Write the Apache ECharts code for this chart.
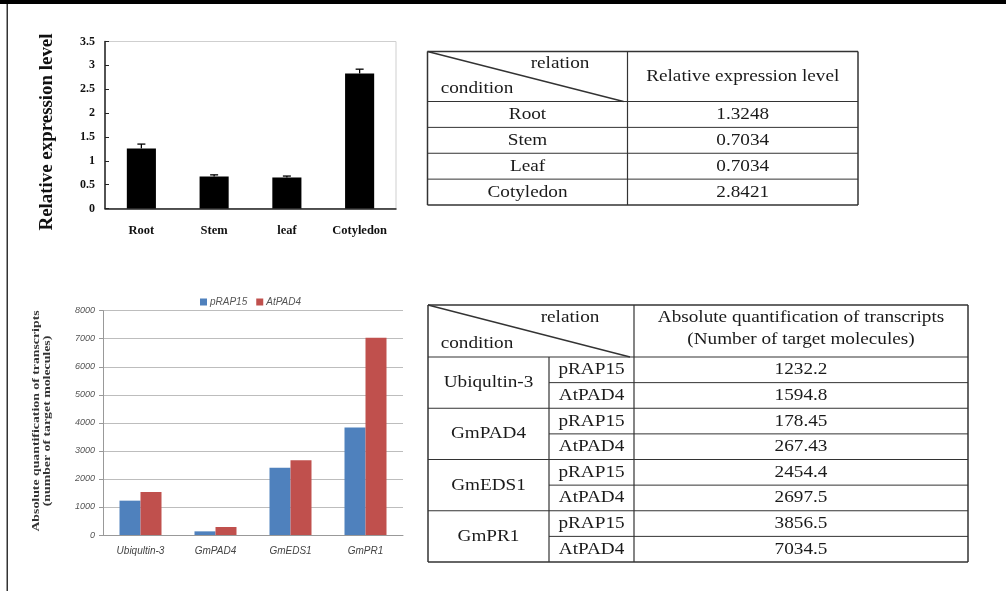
<!DOCTYPE html>
<html>
<head>
<meta charset="utf-8">
<script src="https://cdn.jsdelivr.net/npm/echarts@6/dist/echarts.min.js"></script>
<style>
html,body{margin:0;padding:0;background:#fff;}
#c{width:1006px;height:591px;}
</style>
</head>
<body>
<div id="c"></div>
<script>
// ---- data: top chart ----
const tissueCats = ['Root', 'Stem', 'leaf', 'Cotyledon'];
const tissueValues = [1.26, 0.67, 0.65, 2.83];
const tissueErrors = [0.09, 0.035, 0.03, 0.09];
const tissueTicks = ['0', '0.5', '1', '1.5', '2', '2.5', '3', '3.5'];

// ---- data: bottom chart ----
const geneCats = ['Ubiqultin-3', 'GmPAD4', 'GmEDS1', 'GmPR1'];
const pRAP15Values = [1225, 130, 2400, 3830];
const AtPAD4Values = [1530, 285, 2665, 7035];
const seriesNames = ['pRAP15', 'AtPAD4'];
const geneTicks = ['0', '1000', '2000', '3000', '4000', '5000', '6000', '7000', '8000'];

// ---- data: tables ----
const table1Rows = ['Root', 'Stem', 'Leaf', 'Cotyledon'];
const table1Values = ['1.3248', '0.7034', '0.7034', '2.8421'];
const table1Header = 'Relative expression level';
const table2Genes = ['Ubiqultin-3', 'GmPAD4', 'GmEDS1', 'GmPR1'];
const table2Lines = ['pRAP15', 'AtPAD4'];
const table2Values = ['1232.2', '1594.8', '178.45', '267.43', '2454.4', '2697.5', '3856.5', '7034.5'];
const table2Header = ['Absolute quantification of transcripts', '(Number of target molecules)'];

const serif = '"Liberation Serif", "Times New Roman", serif';
const sans = '"Liberation Sans", Arial, sans-serif';
const tColor = '#1a1a1a';

const chart = echarts.init(document.getElementById('c'));

// ---- table graphics ----
const g = [];
function line(x1, y1, x2, y2, w) {
  g.push({type: 'line', shape: {x1, y1, x2, y2}, style: {stroke: '#333', lineWidth: w || 1}, silent: true});
}
function text(str, x, y) {
  g.push({type: 'text', x, y, scaleX: 1.13, style: {text: str, font: '17px ' + serif, fill: tColor, textAlign: 'center', textVerticalAlign: 'middle'}, silent: true});
}

// page frame
g.push({type: 'rect', shape: {x: 0, y: 0, width: 1006, height: 4}, style: {fill: '#000'}, silent: true});
g.push({type: 'rect', shape: {x: 6.5, y: 4, width: 1.5, height: 587}, style: {fill: '#333'}, silent: true});

// table 1
(function () {
  const x0 = 427.5, xm = 627.5, x1 = 858, y0 = 51.5, yh = 101.5, y1 = 205;
  const rh = (y1 - yh) / table1Rows.length;
  line(x0, y0, x1, y0, 1.5); line(x0, y1, x1, y1, 1.5);
  line(x0, y0, x0, y1, 1.5); line(x1, y0, x1, y1, 1.5);
  line(xm, y0, xm, y1, 1.2);
  line(x0, yh, x1, yh, 1.2);
  line(x0, y0, xm - 4, yh, 1.3);
  text('relation', 560, 64);
  text('condition', 477, 89);
  text(table1Header, (xm + x1) / 2, (y0 + yh) / 2);
  table1Rows.forEach((r, i) => {
    const yy = yh + rh * i;
    if (i > 0) line(x0, yy, x1, yy, 1);
    text(r, (x0 + xm) / 2, yy + rh / 2);
    text(table1Values[i], (xm + x1) / 2, yy + rh / 2);
  });
})();

// table 2
(function () {
  const x0 = 428, xa = 549, xb = 634, x1 = 968, y0 = 305, yh = 357, y1 = 562;
  const n = table2Values.length;
  const rh = (y1 - yh) / n;
  line(x0, y0, x1, y0, 1.5); line(x0, y1, x1, y1, 1.5);
  line(x0, y0, x0, y1, 1.5); line(x1, y0, x1, y1, 1.5);
  line(xb, y0, xb, y1, 1.2);
  line(xa, yh, xa, y1, 1.2);
  line(x0, yh, x1, yh, 1.2);
  line(x0, y0, xb - 4, yh, 1.3);
  text('relation', 570, 318);
  text('condition', 477, 344);
  text(table2Header[0], (xb + x1) / 2, 318);
  text(table2Header[1], (xb + x1) / 2, 340);
  table2Values.forEach((v, i) => {
    const yy = yh + rh * i;
    if (i > 0) line(i % 2 === 0 ? x0 : xa, yy, x1, yy, 1);
    text(table2Lines[i % 2], (xa + xb) / 2, yy + rh / 2);
    text(v, (xb + x1) / 2, yy + rh / 2);
  });
  table2Genes.forEach((gname, j) => {
    text(gname, (x0 + xa) / 2, yh + rh * (2 * j + 1));
  });
})();

// axis names
g.push({type: 'text', x: 47, y: 132, rotation: Math.PI / 2, scaleX: 1.05,
  style: {text: 'Relative expression level', font: 'bold 18px ' + serif, fill: '#111', textAlign: 'center', textVerticalAlign: 'middle'}, silent: true});
g.push({type: 'text', x: 42, y: 421, rotation: Math.PI / 2, scaleX: 1.38,
  style: {text: 'Absolute quantification of transcripts\n(number of target molecules)', font: 'bold 10px ' + serif, lineHeight: 11.5, fill: '#333', textAlign: 'center', textVerticalAlign: 'middle'}, silent: true});

const option = {
  animation: false,
  backgroundColor: '#fff',
  graphic: g,
  legend: {
    data: seriesNames,
    left: 195, top: 292,
    itemWidth: 7, itemHeight: 7, itemGap: 9,
    icon: 'rect',
    textStyle: {fontFamily: sans, fontStyle: 'italic', fontSize: 10, color: '#555', padding: [0, 0, 0, -2]}
  },
  grid: [
    {left: 105, top: 41.5, width: 291, height: 167, show: true, borderColor: '#cfcfcf', borderWidth: 1, containLabel: false},
    {left: 103, top: 310.7, width: 300, height: 224.3, containLabel: false}
  ],
  xAxis: [
    {type: 'category', gridIndex: 0, data: tissueCats,
      axisLine: {lineStyle: {color: '#222', width: 1.5}},
      axisTick: {inside: true, length: 4, lineStyle: {color: '#222'}},
      axisLabel: {interval: 0, hideOverlap: false, fontFamily: serif, fontWeight: 'bold', fontSize: 12.5, color: '#111', margin: 16}},
    {type: 'category', gridIndex: 1, data: geneCats,
      axisLine: {lineStyle: {color: '#999', width: 1}},
      axisTick: {length: 5, lineStyle: {color: '#999'}},
      axisLabel: {interval: 0, fontFamily: sans, fontStyle: 'italic', fontSize: 10, color: '#444', margin: 11}}
  ],
  yAxis: [
    {type: 'value', gridIndex: 0, min: 0, max: 3.5, interval: 0.5,
      axisLine: {show: true, lineStyle: {color: '#222', width: 1.5}},
      axisTick: {show: true, inside: true, length: 4, lineStyle: {color: '#222'}},
      splitLine: {show: false},
      axisLabel: {fontFamily: serif, fontWeight: 'bold', fontSize: 12, color: '#111', margin: 10,
        formatter: (v, i) => tissueTicks[i]}},
    {type: 'value', gridIndex: 1, min: 0, max: 8000, interval: 1000,
      axisLine: {show: true, lineStyle: {color: '#999'}},
      axisTick: {show: true, length: 4, lineStyle: {color: '#999'}},
      splitLine: {show: true, lineStyle: {color: '#bdbdbd', width: 1}},
      axisLabel: {fontFamily: sans, fontStyle: 'italic', fontSize: 9, color: '#555', margin: 8,
        formatter: (v, i) => geneTicks[i]}}
  ],
  series: [
    {type: 'bar', xAxisIndex: 0, yAxisIndex: 0, data: tissueValues, barWidth: '40%',
      itemStyle: {color: '#000'}, silent: true},
    {type: 'custom', xAxisIndex: 0, yAxisIndex: 0, z: 5, silent: true,
      data: tissueCats.map((c, i) => [i, tissueValues[i], tissueErrors[i]]),
      encode: {x: 0, y: 1},
      renderItem: function (params, api) {
        const base = api.coord([api.value(0), api.value(1)]);
        const top = api.coord([api.value(0), api.value(1) + api.value(2)]);
        const st = {stroke: '#000', lineWidth: 1.3};
        return {type: 'group', children: [
          {type: 'line', shape: {x1: base[0], y1: base[1], x2: top[0], y2: top[1]}, style: st},
          {type: 'line', shape: {x1: top[0] - 4, y1: top[1], x2: top[0] + 4, y2: top[1]}, style: st}
        ]};
      }},
    {name: seriesNames[0], type: 'bar', xAxisIndex: 1, yAxisIndex: 1, data: pRAP15Values,
      barWidth: '28%', barGap: '0%', itemStyle: {color: '#4F81BD'}, silent: true},
    {name: seriesNames[1], type: 'bar', xAxisIndex: 1, yAxisIndex: 1, data: AtPAD4Values,
      barWidth: '28%', barGap: '0%', itemStyle: {color: '#C0504D'}, silent: true}
  ]
};
chart.setOption(option);
</script>
</body>
</html>
